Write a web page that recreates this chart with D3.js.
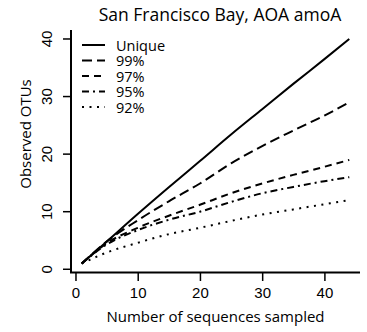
<!DOCTYPE html>
<html>
<head>
<meta charset="utf-8">
<script src="https://cdn.jsdelivr.net/npm/d3@7"></script>
<style>
  body { margin: 0; background: #fff; }
  svg { display: block; font-family: "Open Sans", sans-serif; }
  text { fill: #000; }
  .title { font-size: 17.5px; }
  .label { font-size: 15px; }
  .legend text { font-size: 14.5px; }
  .axis text { font-size: 15px; }
  .axis path { display: none; }
  .axis line { stroke: #000; stroke-width: 1.5; }
  .curve { fill: none; stroke: #000; stroke-width: 2; }
</style>
</head>
<body>
<div id="chart"></div>
<script>
// sequences sampled (x) and observed OTUs per clustering cutoff
const sampled = [1, 5, 10, 15, 20, 25, 30, 35, 40, 44];
const unique = [1, 4.8, 9.6, 14.25, 18.8, 23.4, 27.8, 32.2, 36.5, 40];
const pct99 = [1, 4.8, 8.5, 11.8, 14.9, 18.4, 21.4, 24.1, 26.7, 29];
const pct97 = [1, 4.5, 7.2, 9.3, 11.2, 13.2, 14.9, 16.4, 17.8, 19];
const pct95 = [1, 4.3, 6.8, 8.6, 10.0, 11.7, 13.2, 14.3, 15.3, 16];
const pct92 = [1, 2.9, 4.6, 6.1, 7.2, 8.4, 9.5, 10.4, 11.3, 12];

const seriesNames = ["Unique", "99%", "97%", "95%", "92%"];
const seriesValues = [unique, pct99, pct97, pct95, pct92];
const dashes = ["none", "10,5", "7,5", "7,4,2,4", "2,5.5"];

const xTicks = [0, 10, 20, 30, 40];
const yTicks = [0, 10, 20, 30, 40];

const W = 367, H = 332;
const plotLeft = 71, plotRight = 360, plotTop = 30, plotBottom = 272.5;

const svg = d3.select("#chart").append("svg")
  .attr("width", W)
  .attr("height", H);

// R-style 4% padding around the data range
const xScale = d3.scaleLinear().domain([-0.72, 45.72]).range([plotLeft, plotRight]);
const yScale = d3.scaleLinear().domain([-0.56, 41.56]).range([plotBottom, plotTop]);

// x axis
const xAxis = svg.append("g")
  .attr("class", "axis")
  .attr("transform", `translate(0, ${plotBottom})`)
  .call(d3.axisBottom(xScale).tickValues(xTicks).tickSize(8.5).tickPadding(6));
xAxis.selectAll("text").attr("dy", "0.75em");

// y axis, labels rotated like R's default
const yAxis = svg.append("g")
  .attr("class", "axis")
  .attr("transform", `translate(${plotLeft}, 0)`)
  .call(d3.axisLeft(yScale).tickValues(yTicks).tickSize(8));
yAxis.selectAll(".tick").attr("transform", null);
yAxis.selectAll(".tick line").attr("y1", d => yScale(d)).attr("y2", d => yScale(d));
yAxis.selectAll(".tick text")
  .attr("x", 0)
  .attr("y", 0)
  .attr("dy", 0)
  .attr("text-anchor", "middle")
  .attr("dominant-baseline", "central")
  .attr("transform", d => `translate(-25, ${yScale(d)}) rotate(-90)`);

// L-shaped box
svg.append("path")
  .attr("d", `M${plotLeft},${plotTop}V${plotBottom}H${plotRight}`)
  .attr("fill", "none")
  .attr("stroke", "#000")
  .attr("stroke-width", 2);

const line = d3.line()
  .x((d, i) => xScale(sampled[i]))
  .y(d => yScale(d))
  .curve(d3.curveMonotoneX);

svg.selectAll(".curve")
  .data(seriesValues)
  .enter()
  .append("path")
  .attr("class", "curve")
  .attr("stroke-dasharray", (d, i) => dashes[i])
  .attr("d", line);

// legend
const legend = svg.append("g").attr("class", "legend");
seriesNames.forEach((name, i) => {
  const y = 45 + i * 15.5;
  legend.append("line")
    .attr("x1", 82).attr("x2", 105)
    .attr("y1", y).attr("y2", y)
    .attr("stroke", "#000")
    .attr("stroke-width", 2)
    .attr("stroke-dasharray", dashes[i]);
  legend.append("text")
    .attr("x", 116)
    .attr("y", y)
    .attr("dominant-baseline", "central")
    .text(name);
});

svg.append("text")
  .attr("class", "title")
  .attr("x", 220)
  .attr("y", 21)
  .attr("text-anchor", "middle")
  .text("San Francisco Bay, AOA amoA");

svg.append("text")
  .attr("class", "label")
  .attr("x", (plotLeft + plotRight) / 2)
  .attr("y", 322)
  .attr("text-anchor", "middle")
  .text("Number of sequences sampled");

svg.append("text")
  .attr("class", "label")
  .attr("transform", "translate(25, 134) rotate(-90)")
  .attr("text-anchor", "middle")
  .attr("dominant-baseline", "central")
  .text("Observed OTUs");
</script>
</body>
</html>
